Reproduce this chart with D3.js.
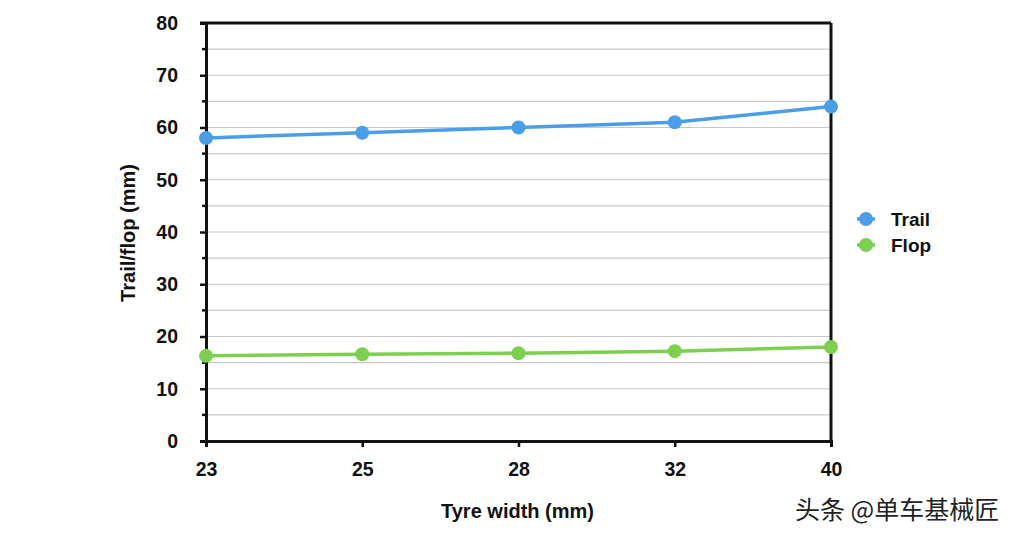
<!DOCTYPE html>
<html><head><meta charset="utf-8">
<script src="https://cdn.jsdelivr.net/npm/d3@7"></script>
<style>
body{margin:0;background:#fff;}
svg text{font-family:"Liberation Sans",Arial,Helvetica,sans-serif;font-weight:bold;fill:#111;}
</style></head><body>
<svg id="c" width="1024" height="538"></svg>
<script>
const categories = ["23","25","28","32","40"];
const trail = [58, 59, 60, 61, 64];
const flop = [16.3, 16.6, 16.8, 17.2, 18.0];
const yTicks = [0,10,20,30,40,50,60,70,80];
const seriesNames = ["Trail","Flop"];
const seriesColors = ["#4a9ee8","#7ccf4f"];

const svg = d3.select("#c");
const L=206, R=831, T=23, B=441;
const x = d3.scalePoint().domain(categories).range([L,R]).padding(0);
const y = d3.scaleLinear().domain([0,80]).range([B,T]);

// gridlines every 5
const grid = d3.range(5,81,5);
svg.append("g").selectAll("line").data(grid).join("line")
  .attr("x1",L).attr("x2",R).attr("y1",d=>y(d)).attr("y2",d=>y(d))
  .attr("stroke","#c8c8c8").attr("stroke-width",1.2);

// minor ticks
svg.append("g").selectAll("line").data(d3.range(5,80,10)).join("line")
  .attr("x1",L-4).attr("x2",L).attr("y1",d=>y(d)).attr("y2",d=>y(d))
  .attr("stroke","#111").attr("stroke-width",2.5);

// y axis
const ya = svg.append("g").attr("transform",`translate(${L},0)`)
  .call(d3.axisLeft(y).tickValues(yTicks).tickSize(6).tickPadding(22));
ya.select(".domain").attr("stroke","#111").attr("stroke-width",3);
ya.selectAll(".tick line").attr("stroke","#111").attr("stroke-width",2.5);
ya.selectAll(".tick text").attr("font-size",19.5).attr("fill","#111").attr("font-family","Liberation Sans, Arial, sans-serif").attr("font-weight","bold");

// x axis
const xa = svg.append("g").attr("transform",`translate(0,${B})`)
  .call(d3.axisBottom(x).tickSize(6).tickPadding(15));
xa.select(".domain").attr("stroke","#111").attr("stroke-width",3);
xa.selectAll(".tick line").attr("stroke","#111").attr("stroke-width",2.5);
xa.selectAll(".tick text").attr("font-size",19.5).attr("fill","#111").attr("font-family","Liberation Sans, Arial, sans-serif").attr("font-weight","bold");

// top and right borders
svg.append("line").attr("x1",L-6).attr("x2",R).attr("y1",T).attr("y2",T).attr("stroke","#111").attr("stroke-width",3);
svg.append("line").attr("x1",R).attr("x2",R).attr("y1",T).attr("y2",B).attr("stroke","#111").attr("stroke-width",3);

// series
const data = [trail, flop];
const line = d3.line().x((d,i)=>x(categories[i])).y(d=>y(d));
data.forEach((s,k)=>{
  svg.append("path").datum(s).attr("d",line).attr("fill","none")
    .attr("stroke",seriesColors[k]).attr("stroke-width",3.5);
  svg.append("g").selectAll("circle").data(s).join("circle")
    .attr("cx",(d,i)=>x(categories[i])).attr("cy",d=>y(d)).attr("r",7)
    .attr("fill",seriesColors[k]);
});

// axis titles
svg.append("text").attr("x",(L+R)/2 - 1).attr("y",518).attr("text-anchor","middle")
  .attr("font-size",20).text("Tyre width (mm)");
svg.append("text").attr("transform",`translate(135,${(T+B)/2 + 1}) rotate(-90)`)
  .attr("text-anchor","middle").attr("font-size",20).text("Trail/flop (mm)");

// legend
const lg = svg.append("g");
seriesNames.forEach((n,k)=>{
  const yy = 219 + k*26;
  lg.append("line").attr("x1",857).attr("x2",875).attr("y1",yy).attr("y2",yy)
    .attr("stroke",seriesColors[k]).attr("stroke-width",3.5);
  lg.append("circle").attr("cx",866).attr("cy",yy).attr("r",7).attr("fill",seriesColors[k]);
  lg.append("text").attr("x",891).attr("y",yy+7).attr("font-size",19).text(n);
});

// watermark
svg.append("text").attr("x",795).attr("y",519)
  .style("font-family","'Noto Sans CJK SC', sans-serif").style("font-weight","normal")
  .attr("font-size",25).style("fill","#222")
  .style("paint-order","stroke").attr("stroke","#fff").attr("stroke-width",1.2)
  .text("头条 @单车基械匠");
</script>
</body></html>
